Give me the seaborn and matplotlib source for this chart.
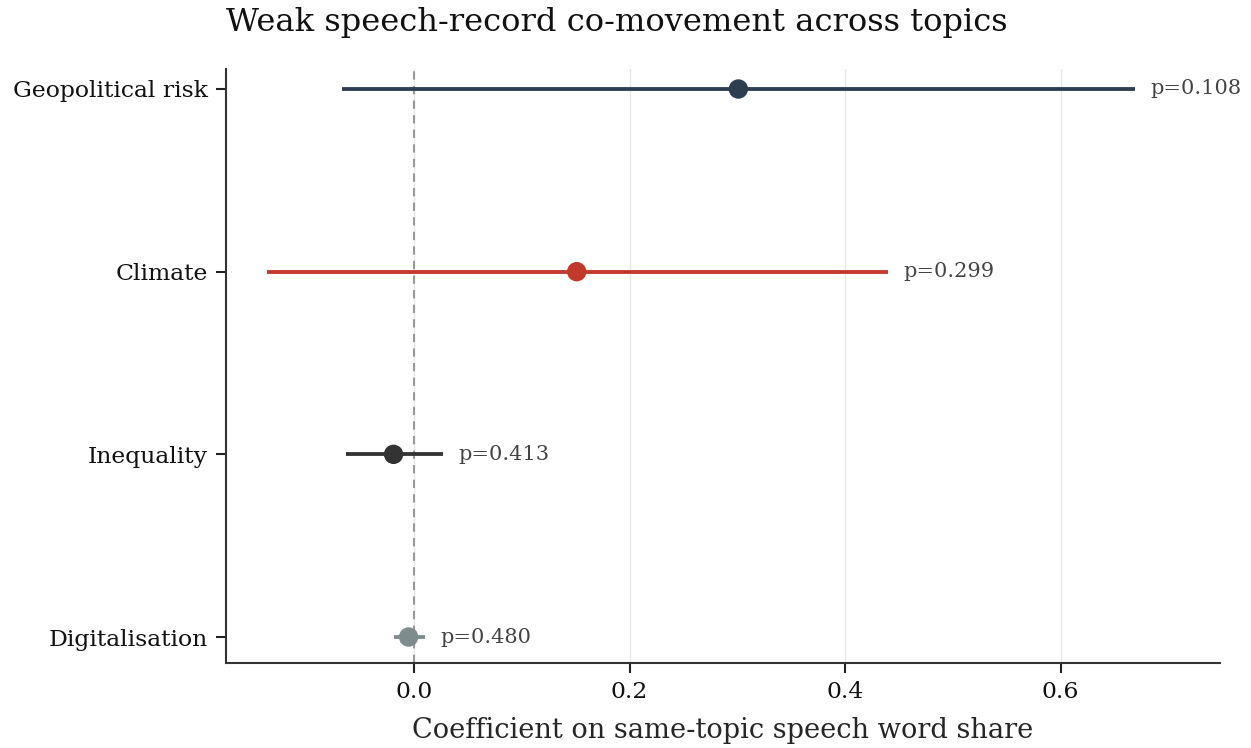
import matplotlib
matplotlib.use("Agg")
import matplotlib.pyplot as plt
import seaborn as sns
import pandas as pd

topics = ["Geopolitical risk", "Climate", "Inequality", "Digitalisation"]
coef = [0.301, 0.151, -0.019, -0.005]
ci_low = [-0.067, -0.136, -0.063, -0.019]
ci_high = [0.669, 0.440, 0.027, 0.010]
pvals = [0.108, 0.299, 0.413, 0.480]
colors = ["#2c3e50", "#c0392b", "#333333", "#7f8c8d"]

sns.set_theme(style="ticks")
plt.rcParams["font.family"] = ["DejaVu Serif"]
plt.rcParams["text.color"] = "#111111"
plt.rcParams["xtick.labelcolor"] = "#111111"
plt.rcParams["ytick.labelcolor"] = "#111111"

df = pd.DataFrame({"topic": topics, "coef": coef, "lo": ci_low, "hi": ci_high, "p": pvals})

fig = plt.figure(figsize=(10.008, 5.984), dpi=125)
ax = fig.add_axes([226/1251, 1-663/748, (1220-226)/1251, (663-69)/748])

ax.axvline(0, color="#999999", linestyle=(0, (4, 3)), linewidth=1.2, zorder=1)
ax.grid(axis="x", color="#e6e6e6", linewidth=0.8)
ax.set_axisbelow(True)

for i, row in df.iterrows():
    ax.hlines(i, row.lo, row.hi, color=colors[i], linewidth=2.2, zorder=2)
    ax.text(row.hi + 0.014, i, f"p={row.p:.3f}", va="center", ha="left",
            fontsize=12, color="#444444")

sns.scatterplot(data=df, x="coef", y=list(range(len(df))), hue="topic",
                palette=colors, s=125, edgecolor="none", legend=False, ax=ax, zorder=3)

ax.set_yticks(range(len(topics)))
ax.set_yticklabels(topics, fontsize=13.5)
ax.set_ylim(3 + 26/182.7, -20/182.7)
ax.set_xlim(-0.1745, 0.748)
ax.set_xticks([0.0, 0.2, 0.4, 0.6])
ax.set_xticklabels(["0.0", "0.2", "0.4", "0.6"], fontsize=13.5)
ax.tick_params(axis="both", length=6, width=1.2, color="#222222")
ax.tick_params(axis="y", pad=4.5)
ax.tick_params(axis="x", pad=4.5)
ax.set_xlabel("Coefficient on same-topic speech word share", fontsize=15.7, labelpad=8)
ax.set_ylabel("")
for s in ["left", "bottom"]:
    ax.spines[s].set_color("#333333")
    ax.spines[s].set_linewidth(1.2)
sns.despine(ax=ax)

fig.text(617/1251, 1-22/748, "Weak speech-record co-movement across topics",
         ha="center", va="center", fontsize=18.5)

fig.savefig("out.png", dpi=125)
